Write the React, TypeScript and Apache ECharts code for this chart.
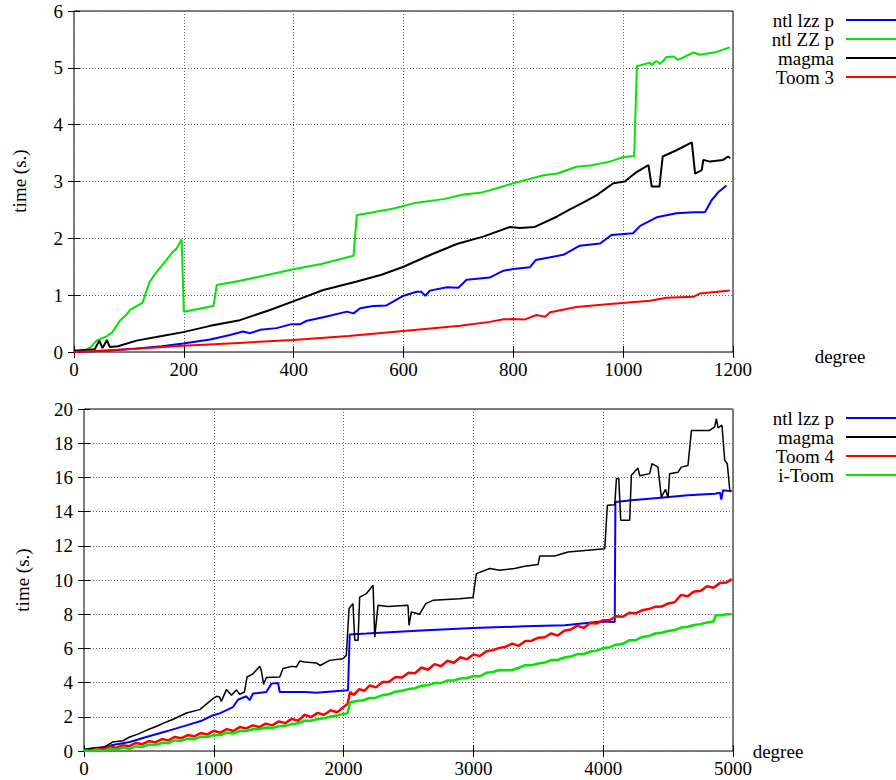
import React, { useEffect, useRef } from "react";
import * as echarts from "echarts";

// ---------- Top chart data (degree, seconds) ----------
const topXTicks = [0, 200, 400, 600, 800, 1000, 1200];
const topYTicks = [0, 1, 2, 3, 4, 5, 6];

const topLzz: [number, number][] = [
  [0, 0], [20, 0.01], [60, 0.02], [114, 0.06], [160, 0.1], [199, 0.15], [248, 0.22], [284, 0.3],
  [308, 0.36], [320, 0.33], [339, 0.39], [369, 0.42], [396, 0.49], [412, 0.49], [424, 0.55],
  [454, 0.61], [497, 0.71], [509, 0.68], [521, 0.77], [545, 0.81], [569, 0.82], [600, 0.99],
  [624, 1.06], [632, 1.06], [640, 0.99], [648, 1.08], [679, 1.14], [700, 1.13], [715, 1.27],
  [757, 1.31], [782, 1.43], [800, 1.46], [830, 1.49], [841, 1.62], [891, 1.71], [921, 1.87],
  [958, 1.91], [979, 2.06], [1018, 2.09], [1031, 2.22], [1061, 2.37], [1097, 2.44], [1128, 2.46],
  [1149, 2.46], [1161, 2.67], [1173, 2.81], [1188, 2.93],
];

const topZZ: [number, number][] = [
  [0, 0], [20, 0.03], [30, 0.08], [41, 0.2], [60, 0.28], [70, 0.35], [84, 0.56], [95, 0.65],
  [102, 0.74], [125, 0.87], [131, 1.05], [138, 1.24], [150, 1.4], [160, 1.52], [169, 1.63],
  [180, 1.76], [187, 1.82], [196, 1.98], [200, 0.71], [254, 0.81], [260, 1.18], [300, 1.25],
  [350, 1.35], [399, 1.455], [450, 1.55], [509, 1.695], [515, 2.41], [540, 2.45], [580, 2.52],
  [600, 2.57], [620, 2.62], [673, 2.69], [709, 2.77], [740, 2.8], [770, 2.88], [800, 2.97],
  [855, 3.11], [880, 3.14], [915, 3.26], [940, 3.28], [976, 3.35], [1000, 3.43], [1020, 3.45],
  [1025, 5.03], [1049, 5.09], [1052, 5.05], [1060, 5.12], [1068, 5.07], [1079, 5.19], [1092, 5.2],
  [1100, 5.14], [1128, 5.27], [1140, 5.23], [1170, 5.28], [1194, 5.36],
];

const topMagma: [number, number][] = [
  [0, 0.02], [38, 0.05], [46, 0.2], [52, 0.07], [60, 0.21], [65, 0.09], [80, 0.1], [114, 0.2],
  [160, 0.28], [199, 0.35], [248, 0.46], [302, 0.56], [357, 0.74], [399, 0.89], [454, 1.09],
  [515, 1.24], [560, 1.36], [600, 1.5], [642, 1.68], [697, 1.9], [745, 2.03], [794, 2.2],
  [812, 2.18], [839, 2.2], [879, 2.38], [903, 2.51], [927, 2.63], [952, 2.76], [982, 2.97],
  [1003, 3.0], [1025, 3.17], [1046, 3.29], [1052, 2.91], [1066, 2.91], [1072, 3.44], [1097, 3.55],
  [1125, 3.69], [1131, 3.14], [1143, 3.2], [1146, 3.38], [1158, 3.35], [1182, 3.38], [1191, 3.44],
  [1195, 3.41],
];

const topToom3: [number, number][] = [
  [0, 0], [100, 0.05], [199, 0.11], [300, 0.16], [399, 0.21], [500, 0.28], [600, 0.37],
  [703, 0.46], [757, 0.53], [782, 0.575], [800, 0.58], [820, 0.57], [842, 0.65], [858, 0.62],
  [867, 0.7], [915, 0.79], [976, 0.845], [1049, 0.9], [1079, 0.955], [1128, 0.97], [1140, 1.03],
  [1194, 1.08],
];

// ---------- Bottom chart data ----------
const botXTicks = [0, 1000, 2000, 3000, 4000, 5000];
const botYTicks = [0, 2, 4, 6, 8, 10, 12, 14, 16, 18, 20];

const botLzz: [number, number][] = [
  [0, 0.05], [100, 0.15], [223, 0.35], [352, 0.53], [481, 0.82], [635, 1.15], [789, 1.5],
  [900, 1.75], [994, 2.09], [1045, 2.2], [1148, 2.57], [1186, 3.0], [1251, 3.2], [1276, 2.97],
  [1302, 3.36], [1405, 3.45], [1444, 3.94], [1495, 3.98], [1508, 3.45], [1700, 3.45], [1790, 3.41],
  [2034, 3.55], [2047, 6.82], [2176, 6.87], [2600, 7.05], [2997, 7.19], [3395, 7.29], [3704, 7.35],
  [3986, 7.58], [4089, 7.55], [4094, 14.56], [4217, 14.66], [4422, 14.8], [4653, 14.95],
  [4859, 15.05], [4900, 15.1], [4910, 14.7], [4923, 15.25], [4988, 15.19],
];

const botMagma: [number, number][] = [
  [0, 0.1], [100, 0.2], [150, 0.2], [223, 0.53], [300, 0.6], [352, 0.82], [420, 1.0], [481, 1.21],
  [560, 1.45], [635, 1.7], [700, 1.9], [789, 2.22], [891, 2.42], [994, 3.06], [1020, 3.2],
  [1045, 3.16], [1058, 2.9], [1097, 3.59], [1136, 3.26], [1174, 3.57], [1200, 3.32], [1236, 3.45],
  [1256, 4.33], [1300, 4.5], [1354, 4.95], [1366, 4.7], [1384, 3.9], [1405, 4.3], [1508, 4.33],
  [1533, 4.82], [1600, 4.95], [1636, 4.91], [1662, 5.26], [1700, 5.2], [1790, 5.15], [1820, 5.0],
  [1892, 5.3], [1995, 5.4], [2021, 5.6], [2042, 8.33], [2072, 8.62], [2086, 6.47], [2111, 6.47],
  [2124, 9.0], [2175, 9.2], [2227, 9.69], [2240, 6.67], [2265, 8.52], [2342, 8.45], [2496, 8.52],
  [2504, 7.35], [2522, 8.13], [2586, 8.0], [2633, 8.62], [2689, 8.81], [2894, 8.91], [2997, 8.97],
  [3023, 10.37], [3126, 10.67], [3203, 10.57], [3318, 10.67], [3395, 10.8], [3498, 10.9],
  [3511, 11.4], [3626, 11.4], [3729, 11.64], [4012, 11.83], [4032, 14.37], [4089, 14.4],
  [4102, 15.93], [4120, 15.93], [4135, 13.49], [4204, 13.49], [4217, 16.12], [4268, 16.55],
  [4281, 16.1], [4358, 16.22], [4376, 16.8], [4422, 16.6], [4448, 14.85], [4480, 15.3],
  [4500, 14.8], [4512, 16.22], [4576, 16.3], [4602, 16.6], [4653, 16.7], [4680, 18.75],
  [4820, 18.75], [4859, 18.95], [4872, 19.44], [4885, 18.9], [4915, 19.05], [4936, 17.0],
  [4956, 16.8], [4975, 15.25], [4988, 15.19],
];

const botToom4: [number, number][] = [
  [0, 0.05], [50, 0.0], [100, 0.14], [150, 0.08], [200, 0.27], [250, 0.18], [300, 0.34], [350, 0.28],
  [400, 0.47], [450, 0.4], [500, 0.58], [550, 0.5], [600, 0.7], [650, 0.62], [700, 0.82],
  [750, 0.75], [800, 0.93], [850, 0.85], [900, 1.05], [950, 0.97], [1000, 1.18], [1050, 1.07],
  [1100, 1.28], [1150, 1.17], [1200, 1.4], [1250, 1.32], [1300, 1.5], [1350, 1.4], [1400, 1.6],
  [1450, 1.5], [1500, 1.73], [1550, 1.62], [1600, 1.88], [1650, 1.77], [1700, 2.12], [1750, 1.98],
  [1800, 2.23], [1850, 2.12], [1900, 2.38], [1950, 2.27], [2000, 2.57], [2030, 2.75], [2050, 3.45],
  [2080, 3.28], [2120, 3.62], [2160, 3.52], [2200, 3.83], [2250, 3.72], [2300, 4.03], [2350, 4.05],
  [2400, 4.33], [2450, 4.3], [2500, 4.58], [2550, 4.55], [2600, 4.88], [2650, 4.75], [2700, 5.08],
  [2750, 4.96], [2800, 5.28], [2850, 5.16], [2900, 5.48], [2950, 5.36], [3000, 5.65], [3050, 5.55],
  [3100, 5.83], [3150, 5.9], [3200, 6.03], [3250, 6.1], [3300, 6.28], [3350, 6.15], [3400, 6.43],
  [3450, 6.45], [3500, 6.63], [3550, 6.65], [3600, 6.88], [3650, 6.75], [3700, 7.03], [3750, 7.1],
  [3800, 7.33], [3850, 7.2], [3900, 7.48], [3950, 7.45], [4000, 7.65], [4050, 7.65], [4100, 7.88],
  [4150, 7.85], [4200, 8.08], [4250, 8.05], [4300, 8.23], [4350, 8.3], [4400, 8.43], [4450, 8.45],
  [4500, 8.63], [4550, 8.7], [4600, 9.13], [4650, 9.05], [4700, 9.33], [4750, 9.35], [4800, 9.63],
  [4850, 9.55], [4900, 9.83], [4950, 9.85], [4990, 10.05],
];

const botIToom: [number, number][] = [
  [0, 0.02], [50, 0.0], [100, 0.07], [150, 0.0], [200, 0.14], [250, 0.07], [300, 0.2], [350, 0.12],
  [400, 0.27], [450, 0.25], [500, 0.37], [550, 0.35], [600, 0.47], [650, 0.47], [700, 0.62],
  [750, 0.59], [800, 0.72], [850, 0.69], [900, 0.84], [950, 0.82], [1000, 0.94], [1050, 0.92],
  [1100, 1.07], [1150, 1.02], [1200, 1.17], [1250, 1.17], [1300, 1.27], [1350, 1.27], [1400, 1.37],
  [1450, 1.35], [1500, 1.44], [1550, 1.47], [1600, 1.57], [1650, 1.62], [1700, 1.77], [1750, 1.77],
  [1800, 1.87], [1850, 1.92], [1900, 2.02], [1950, 2.07], [2000, 2.17], [2030, 2.2], [2050, 2.85],
  [2100, 2.92], [2150, 2.97], [2200, 3.1], [2250, 3.12], [2300, 3.27], [2350, 3.32], [2400, 3.47],
  [2450, 3.52], [2500, 3.62], [2550, 3.67], [2600, 3.82], [2650, 3.85], [2700, 3.97], [2750, 3.97],
  [2800, 4.12], [2850, 4.12], [2900, 4.24], [2950, 4.27], [3000, 4.37], [3050, 4.37], [3100, 4.57],
  [3150, 4.62], [3200, 4.74], [3250, 4.72], [3300, 4.74], [3350, 4.87], [3400, 5.02], [3450, 5.02],
  [3500, 5.12], [3550, 5.17], [3600, 5.32], [3650, 5.32], [3700, 5.47], [3750, 5.52], [3800, 5.67],
  [3850, 5.67], [3900, 5.82], [3950, 5.87], [4000, 6.02], [4050, 6.07], [4100, 6.22], [4150, 6.27],
  [4200, 6.47], [4250, 6.47], [4300, 6.67], [4350, 6.72], [4400, 6.87], [4450, 6.92], [4500, 7.02],
  [4550, 7.07], [4600, 7.22], [4650, 7.27], [4700, 7.37], [4750, 7.42], [4800, 7.52], [4850, 7.57],
  [4870, 7.95], [4900, 7.93], [4950, 8.0], [4990, 8.0],
];

const topLegend = ["ntl lzz p", "ntl ZZ p", "magma", "Toom 3"];
const botLegend = ["ntl lzz p", "magma", "Toom 4", "i-Toom"];

const BLUE = "#0000ff";
const GREEN = "#00e600";
const BLACK = "#000000";
const RED = "#ff0000";
const FONT = "'Liberation Serif', 'DejaVu Serif', serif";

export default function App() {
  const ref = useRef<HTMLDivElement>(null);
  useEffect(() => {
    if (!ref.current) return;
    const chart = echarts.init(ref.current, null, { renderer: "svg" });

    const labelStyle = {
      fontFamily: FONT,
      fontSize: 19,
      color: "#000",
      formatter: (v: number) => String(v),
    };
    const split = { show: true, lineStyle: { color: "#666", type: [1, 2] as any, width: 1 } };
    const tick = { show: true, inside: true, length: 6, lineStyle: { color: "#000", width: 1 } };

    const mkX = (grid: number, ticks: number[], main: boolean) => ({
      type: "value",
      gridIndex: grid,
      min: ticks[0],
      max: ticks[ticks.length - 1],
      interval: ticks[1] - ticks[0],
      position: main ? "bottom" : "top",
      axisLine: { show: false },
      axisTick: tick,
      axisLabel: main ? { ...labelStyle, margin: 8 } : { show: false },
      splitLine: main ? split : { show: false },
    });
    const mkY = (grid: number, ticks: number[], main: boolean) => ({
      type: "value",
      gridIndex: grid,
      min: ticks[0],
      max: ticks[ticks.length - 1],
      interval: ticks[1] - ticks[0],
      position: main ? "left" : "right",
      axisLine: { show: false },
      axisTick: tick,
      axisLabel: main ? { ...labelStyle, margin: 11 } : { show: false },
      splitLine: main ? split : { show: false },
    });

    const line = (name: string, data: [number, number][], color: string, ax: number, width: number) => ({
      name,
      type: "line",
      data,
      xAxisIndex: ax,
      yAxisIndex: ax,
      showSymbol: false,
      symbol: "none",
      lineStyle: { color, width },
      itemStyle: { color },
    });

    const legendItems = (names: string[], colors: string[], ys: number[]) =>
      names.flatMap((n, i) => [
        {
          type: "text",
          x: 834,
          y: ys[i],
          style: {
            text: n,
            textAlign: "right",
            textVerticalAlign: "middle",
            fontFamily: FONT,
            fontSize: 19,
            lineHeight: 17,
            fill: "#000",
          },
        },
        {
          type: "line",
          shape: { x1: 846, y1: ys[i], x2: 900, y2: ys[i] },
          style: { stroke: colors[i], lineWidth: 2 },
        },
      ]);

    const axisTitle = (text: string, x: number, y: number, rot: number) => ({
      type: "text",
      x,
      y,
      rotation: rot,
      style: {
        text,
        textAlign: "center",
        textVerticalAlign: "middle",
        fontFamily: FONT,
        fontSize: 19,
        fill: "#000",
      },
    });

    chart.setOption({
      animation: false,
      backgroundColor: "#fff",
      textStyle: { fontFamily: FONT },
      grid: [
        { left: 74, top: 11, width: 659, height: 341, show: true, borderColor: "#000", borderWidth: 1, backgroundColor: "transparent" },
        { left: 84, top: 409, width: 649, height: 342, show: true, borderColor: "#000", borderWidth: 1, backgroundColor: "transparent" },
      ],
      xAxis: [mkX(0, topXTicks, true), mkX(0, topXTicks, false), mkX(1, botXTicks, true), mkX(1, botXTicks, false)],
      yAxis: [mkY(0, topYTicks, true), mkY(0, topYTicks, false), mkY(1, botYTicks, true), mkY(1, botYTicks, false)],
      series: [
        line(topLegend[0], topLzz, BLUE, 0, 2),
        line(topLegend[1], topZZ, GREEN, 0, 2),
        line(topLegend[2], topMagma, BLACK, 0, 2),
        line(topLegend[3], topToom3, RED, 0, 2),
        line(botLegend[0], botLzz, BLUE, 2, 2),
        line(botLegend[1], botMagma, BLACK, 2, 1.5),
        line(botLegend[2], botToom4, RED, 2, 2.5),
        line(botLegend[3], botIToom, GREEN, 2, 2.5),
      ],
      graphic: [
        axisTitle("time (s.)", 19, 181, Math.PI / 2),
        axisTitle("time (s.)", 22, 580, Math.PI / 2),
        axisTitle("degree", 840, 356, 0),
        axisTitle("degree", 778, 751, 0),
        ...legendItems(topLegend, [BLUE, GREEN, BLACK, RED], [20, 39, 58, 77]),
        ...legendItems(botLegend, [BLUE, BLACK, RED, GREEN], [418, 437, 456, 475]),
      ],
    });
    return () => chart.dispose();
  }, []);

  return (
    <div
      ref={ref}
      style={{ position: "absolute", left: 0, top: 0, width: 896, height: 780, background: "#fff" }}
    />
  );
}
